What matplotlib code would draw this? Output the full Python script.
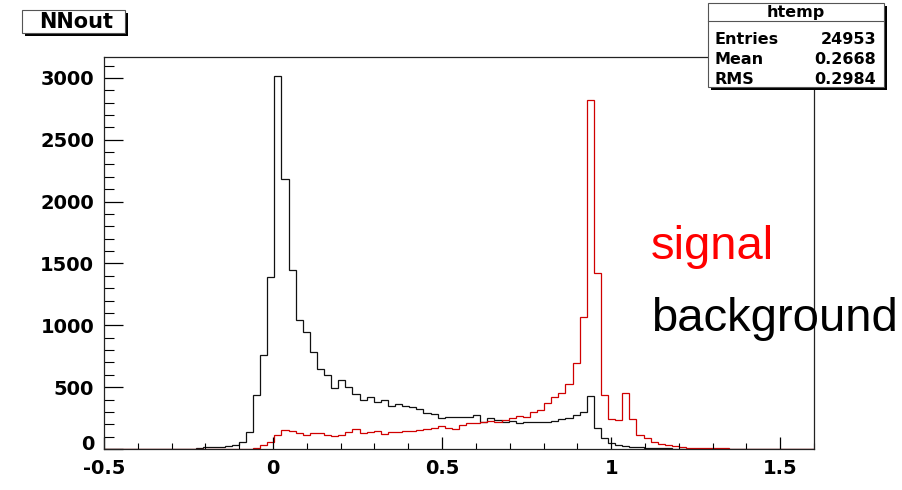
import numpy as np
import matplotlib
matplotlib.use("Agg")
import matplotlib.pyplot as plt
from matplotlib.patches import Rectangle
from matplotlib.ticker import MultipleLocator, FixedLocator
from matplotlib.transforms import ScaledTranslation

# ---- histogram definition (100 bins) ----
n_bins = 100
bin_lo = -0.5
bin_hi = 1.6

# background network output, counts per bin
background = [
    0, 0, 0, 0, 0, 0, 0, 0, 0, 0,
    0, 0, 3, 10, 20, 18, 15, 22, 35, 55,
    135, 435, 758, 1390, 3018, 2180, 1450, 1045, 946, 782,
    650, 600, 495, 556, 503, 443, 395, 422, 382, 395,
    347, 360, 350, 341, 320, 288, 282, 247, 255, 261,
    255, 255, 274, 220, 247, 234, 220, 228, 213, 218,
    222, 218, 220, 225, 240, 250, 275, 300, 425, 172,
    85, 48, 32, 28, 20, 15, 12, 9, 7, 5,
    4, 3, 2, 0, 0, 0, 0, 0, 0, 0,
    0, 0, 0, 0, 0, 0, 0, 0, 0, 0,
]

# signal network output, counts per bin
signal = [
    0, 0, 0, 0, 0, 0, 0, 0, 0, 0,
    0, 0, 0, 0, 0, 0, 0, 0, 0, 0,
    4, 12, 30, 60, 115, 150, 145, 130, 115, 126,
    132, 113, 105, 113, 140, 158, 132, 140, 148, 121,
    140, 140, 148, 148, 153, 158, 167, 185, 172, 158,
    194, 207, 212, 220, 228, 220, 234, 247, 270, 260,
    298, 318, 370, 420, 455, 527, 692, 1065, 2823, 1425,
    435, 245, 238, 455, 245, 115, 85, 57, 40, 30,
    22, 18, 12, 10, 8, 6, 5, 5, 4, 3,
    2, 0, 0, 0, 0, 0, 0, 0, 0, 0,
]

x_major = [-0.5, 0, 0.5, 1, 1.5]
x_major_labels = ["-0.5", "0", "0.5", "1", "1.5"]
y_major = [0, 500, 1000, 1500, 2000, 2500, 3000]

hist_title = "NNout"
stats_name = "htemp"
stats_rows = [("Entries", "24953"), ("Mean", "0.2668"), ("RMS", "0.2984")]

# ---- figure ----
W, H = 903, 490
plt.rcParams["axes.unicode_minus"] = False
fig = plt.figure(figsize=(W / 100, H / 100), dpi=100)
fig.patch.set_facecolor("white")


def fx(x):
    return x / W


def fy(y):
    return 1 - y / H


ax = fig.add_axes([fx(104), fy(449), (814 - 104) / W, (449 - 57) / H])

edges = np.linspace(bin_lo, bin_hi, n_bins + 1)
ax.stairs(background, edges, color="#111111", lw=0.9)
ax.stairs(signal, edges, color="#d00000", lw=0.9)

ax.set_xlim(bin_lo, bin_hi)
ax.set_ylim(0, 1.05 * max(background))

for s in ax.spines.values():
    s.set_linewidth(0.9)
    s.set_color("#222222")

ax.xaxis.set_major_locator(FixedLocator(x_major))
ax.set_xticklabels(x_major_labels)
ax.xaxis.set_minor_locator(MultipleLocator(0.1))
ax.yaxis.set_major_locator(FixedLocator(y_major))
ax.yaxis.set_minor_locator(MultipleLocator(100))

ax.tick_params(axis="x", which="major", direction="in", length=9, width=0.9,
               pad=7, top=False)
ax.tick_params(axis="x", which="minor", direction="in", length=4.5, width=0.8,
               top=False)
ax.tick_params(axis="y", which="major", direction="in", length=14, width=0.9,
               pad=7, right=False)
ax.tick_params(axis="y", which="minor", direction="in", length=7, width=0.8,
               right=False)
for lab in ax.get_xticklabels() + ax.get_yticklabels():
    lab.set_fontfamily("DejaVu Sans")
    lab.set_fontweight("bold")
    lab.set_fontsize(14)

# lift the y "0" label a little so it clears the "-0.5" below it
zero_tick = ax.yaxis.get_major_ticks()[0]
zero_tick.label1.set_transform(
    zero_tick.label1.get_transform()
    + ScaledTranslation(0, 5 / 72, fig.dpi_scale_trans))

# ---- title box with drop shadow ----
def shadow_box(x0, y0, x1, y1, off=3):
    fig.add_artist(Rectangle((fx(x0 + off), fy(y1 + off)), (x1 - x0) / W,
                             (y1 - y0) / H, transform=fig.transFigure,
                             facecolor="black", edgecolor="none", zorder=5))
    fig.add_artist(Rectangle((fx(x0), fy(y1)), (x1 - x0) / W, (y1 - y0) / H,
                             transform=fig.transFigure, facecolor="white",
                             edgecolor="#555555", lw=0.8, zorder=6))


shadow_box(22, 10, 125, 33)
fig.text(fx(76), fy(22), hist_title, ha="center", va="center", zorder=7,
         family="DejaVu Sans", weight="bold", size=15)

# ---- statistics box ----
shadow_box(708, 3, 884, 87)
fig.add_artist(plt.Line2D([fx(708), fx(884)], [fy(21), fy(21)],
                          transform=fig.transFigure, color="#555555", lw=0.8,
                          zorder=7))
fig.text(fx(796), fy(12.5), stats_name, ha="center", va="center", zorder=7,
         family="DejaVu Sans", weight="bold", size=11.5)
for i, (k, v) in enumerate(stats_rows):
    yy = fy(39.5 + 20 * i)
    fig.text(fx(715), yy, k, ha="left", va="center", zorder=7,
             family="DejaVu Sans", weight="bold", size=11.5)
    fig.text(fx(876), yy, v, ha="right", va="center", zorder=7,
             family="DejaVu Sans", weight="bold", size=11.5)

# ---- annotations ----
fig.text(fx(651), fy(259), "signal", color="#ff0000", ha="left",
         va="baseline", family="Liberation Sans", size=34)
fig.text(fx(651), fy(331), "background", color="black", ha="left",
         va="baseline", family="Liberation Sans", size=34)

fig.savefig("out.png", dpi=100, facecolor="white")
